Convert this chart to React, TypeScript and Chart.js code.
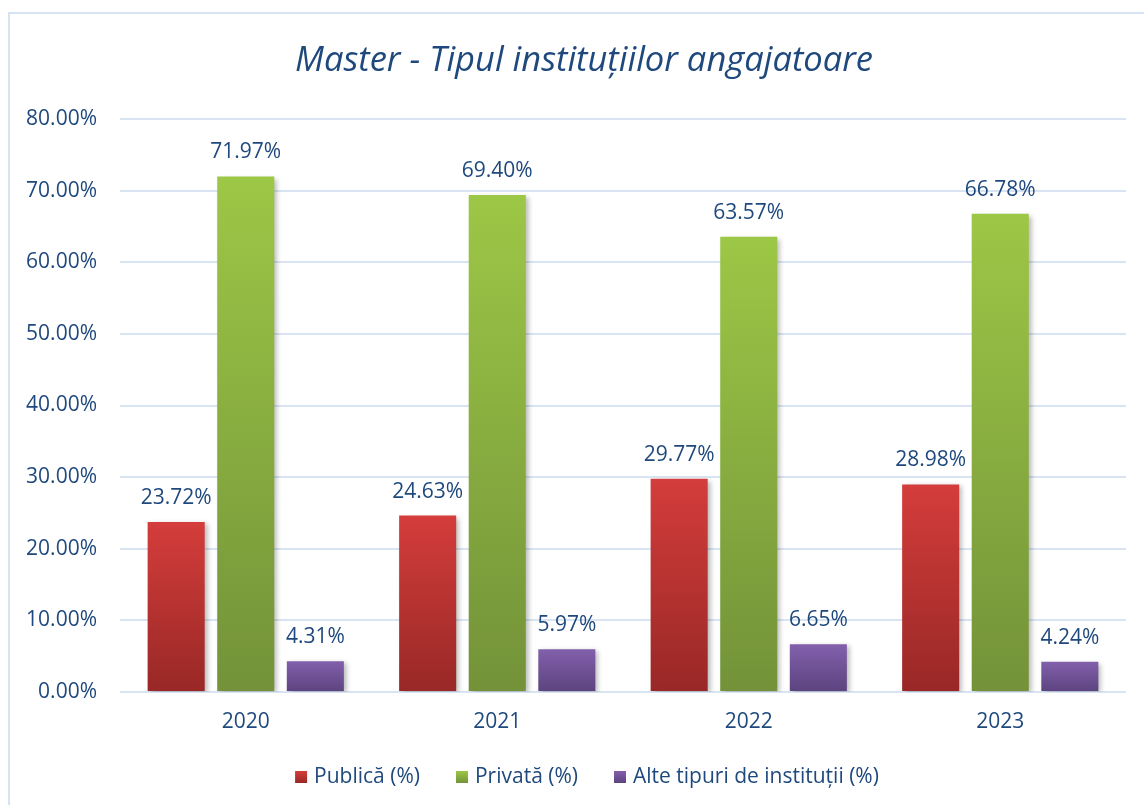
import React, { useEffect, useRef } from "react";
import { Chart, registerables } from "chart.js";

Chart.register(...registerables);

const categories = ["2020", "2021", "2022", "2023"];
const publica = [23.72, 24.63, 29.77, 28.98];
const privata = [71.97, 69.4, 63.57, 66.78];
const alte = [4.31, 5.97, 6.65, 4.24];
const seriesLabels = ["Publică (%)", "Privată (%)", "Alte tipuri de instituții (%)"];
const titleText = "Master - Tipul instituțiilor angajatoare";

const TEXT = "#1F497D";
const FONT = "'Open Sans'";
const gradStops: [string, string][] = [
  ["#D43D3B", "#982826"],
  ["#9DC746", "#739239"],
  ["#8260AC", "#5C437E"],
];

function barGradient(ctx: any, idx: number) {
  const chart = ctx.chart;
  const area = chart.chartArea;
  if (!area || ctx.type !== "data") return gradStops[idx][0];
  const y = chart.scales.y;
  const v = ctx.raw as number;
  const top = y.getPixelForValue(v);
  const bottom = y.getPixelForValue(0);
  const g = chart.ctx.createLinearGradient(0, top, 0, bottom);
  g.addColorStop(0, gradStops[idx][0]);
  g.addColorStop(1, gradStops[idx][1]);
  return g;
}

const decorPlugin = {
  id: "decor",
  beforeDraw(chart: any) {
    const c = chart.ctx;
    c.save();
    c.fillStyle = "#ffffff";
    c.fillRect(0, 0, chart.width, chart.height);
    c.strokeStyle = "#D5E3F5";
    c.lineWidth = 2;
    c.beginPath();
    c.moveTo(9, chart.height);
    c.lineTo(9, 13);
    c.lineTo(chart.width, 13);
    c.stroke();
    c.restore();
  },
  beforeDatasetsDraw(chart: any) {
    const c = chart.ctx;
    c.save();
    c.shadowColor = "rgba(0,0,0,0.28)";
    c.shadowBlur = 5;
    c.shadowOffsetX = 3;
    c.shadowOffsetY = 2;
  },
  afterDatasetsDraw(chart: any) {
    const c = chart.ctx;
    c.restore();
    c.save();
    c.fillStyle = TEXT;
    c.font = `21px ${FONT}`;
    c.textAlign = "center";
    c.textBaseline = "middle";
    chart.data.datasets.forEach((ds: any, di: number) => {
      const meta = chart.getDatasetMeta(di);
      meta.data.forEach((bar: any, i: number) => {
        const v = ds.data[i] as number;
        c.fillText(v.toFixed(2) + "%", bar.x, bar.y - 24);
      });
    });
    c.restore();
  },
  afterDraw(chart: any) {
    const c = chart.ctx;
    c.save();
    // title
    c.fillStyle = TEXT;
    c.font = `italic 34.5px ${FONT}`;
    c.textAlign = "center";
    c.textBaseline = "middle";
    c.fillText(titleText, 584, 61);
    // legend
    c.font = `21px ${FONT}`;
    c.textAlign = "left";
    const y = 777;
    const gap = 36;
    const sq = 12;
    const tgap = 7;
    const widths = seriesLabels.map((t) => sq + tgap + c.measureText(t).width);
    const total = widths.reduce((a, b) => a + b, 0) + gap * (seriesLabels.length - 1);
    let x = 587 - total / 2;
    seriesLabels.forEach((t, i) => {
      const g = c.createLinearGradient(0, y - sq / 2, 0, y + sq / 2);
      g.addColorStop(0, gradStops[i][0]);
      g.addColorStop(1, gradStops[i][1]);
      c.fillStyle = g;
      c.fillRect(x, y - sq / 2, sq, sq);
      c.fillStyle = TEXT;
      c.fillText(t, x + sq + tgap, y);
      x += widths[i] + gap;
    });
    c.restore();
  },
};

export default function App() {
  const ref = useRef<HTMLCanvasElement>(null);
  useEffect(() => {
    const canvas = ref.current!;
    const chart = new Chart(canvas, {
      type: "bar",
      data: {
        labels: categories,
        datasets: [publica, privata, alte].map((d, i) => ({
          label: seriesLabels[i],
          data: d,
          backgroundColor: (ctx: any) => barGradient(ctx, i),
          borderWidth: 0,
          categoryPercentage: 0.83,
          barPercentage: 0.82,
        })),
      },
      options: {
        responsive: false,
        animation: false,
        events: [],
        layout: { padding: { top: 119, left: 0, right: 18, bottom: 63 } },
        plugins: {
          legend: { display: false },
          title: { display: false },
          tooltip: { enabled: false },
        },
        scales: {
          x: {
            grid: { display: false, drawTicks: false },
            border: { display: false },
            ticks: { color: TEXT, font: { family: FONT, size: 21 }, padding: 17 },
            afterFit: (s: any) => {
              s.height = 50;
            },
          },
          y: {
            min: 0,
            max: 80,
            grid: { color: "#D9E4F3", lineWidth: 2, drawTicks: false },
            border: { display: false },
            ticks: {
              stepSize: 10,
              color: TEXT,
              font: { family: FONT, size: 21 },
              padding: 23,
              callback: (v: any) => Number(v).toFixed(2) + "%",
            },
            afterFit: (s: any) => {
              s.width = 120;
            },
          },
        },
      },
      plugins: [decorPlugin],
    });
    return () => chart.destroy();
  }, []);
  return (
    <div style={{ position: "fixed", left: 0, top: 0, width: 1144, height: 805, background: "#fff" }}>
      <canvas ref={ref} width={1144} height={805} style={{ width: 1144, height: 805, display: "block" }} />
    </div>
  );
}
